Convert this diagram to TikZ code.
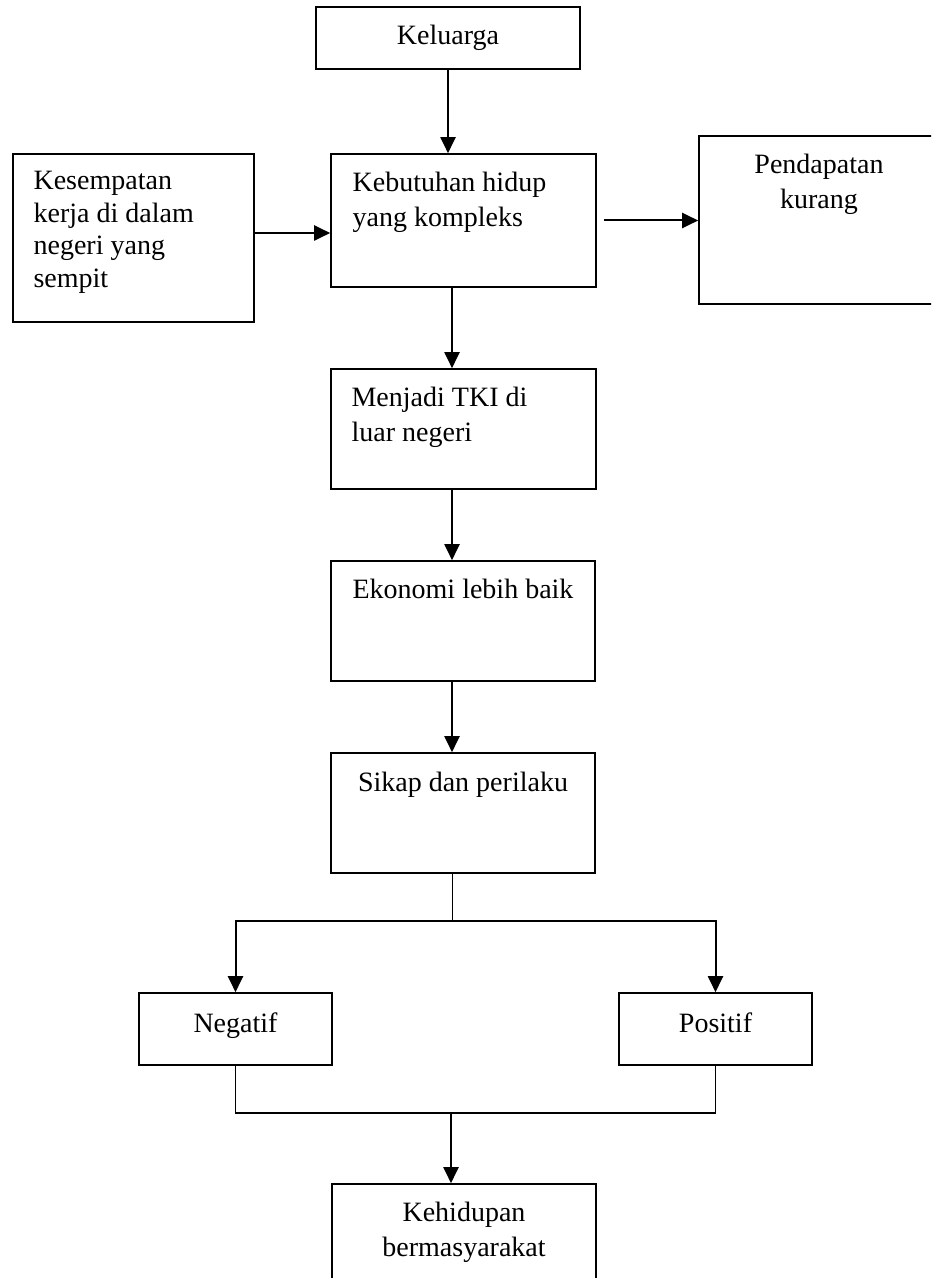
\documentclass[tikz,border=0pt]{standalone}
\usepackage{fontspec}
\setmainfont{Liberation Serif}
\usetikzlibrary{arrows.meta}

\begin{document}
\begin{tikzpicture}[x=0.5pt, y=-0.5pt, font=\fontsize{14}{17.5}\selectfont]
	\tikzstyle{box} = [draw, line width=0.8pt, rectangle, inner sep=0pt]
	\tikzstyle{small} = [box, minimum width=96.5pt, minimum height=36pt, text height=9.5pt, text depth=6pt]
	\tikzstyle{txtl} = [inner sep=0pt, align=left, anchor=north west, xshift=10.5pt, yshift=-9pt]
	\tikzstyle{txtc} = [inner sep=0pt, align=center, anchor=north, yshift=-9pt]
	\tikzstyle{flow} = [line width=1pt, -{Triangle[length=8pt, width=7.5pt]}]
	\useasboundingbox (0,0) rectangle (931,1278); \clip (0,0) rectangle (931,1278);

	\node[box, minimum width=132pt, minimum height=31pt] (kel) at (448,38) {Keluarga};
	\node[box, minimum width=120.5pt, minimum height=84pt, label={[txtl, font=\fontsize{14}{16.2}\selectfont]north west:{Kesempatan\\kerja di dalam\\negeri yang\\sempit}}] (kes) at (133.5,238) {}; \node[box, minimum width=132.5pt, minimum height=66.5pt, label={[txtl, xshift=0.5pt]north west:{Kebutuhan hidup\\yang kompleks}}] (keb) at (463.5,220.5) {}; \node[box, minimum width=120pt, minimum height=84pt, label={[txtc]north:{Pendapatan\\kurang}}] (pen) at (819,220) {};
	\node[box, minimum width=132.5pt, minimum height=60pt, label={[txtl]north west:{Menjadi TKI di\\luar negeri}}] (tki) at (463.5,429) {};
	\node[box, minimum width=132pt, minimum height=60pt, label={[txtc]north:{Ekonomi lebih baik}}] (eko) at (463,621) {};
	\node[box, minimum width=132pt, minimum height=60pt, label={[txtc, yshift=-0.5pt]north:{Sikap dan perilaku}}] (sik) at (463,813) {};
	\node[small] (neg) at (235.5,1029) {Negatif}; \node[small] (pos) at (715.5,1029) {Positif};
	\node[box, minimum width=132pt, minimum height=60pt, label={[txtc]north:{Kehidupan\\bermasyarakat}}] (keh) at (464,1244) {};
	\coordinate (split) at (452,921); \coordinate (merge) at (451,1113);

	\draw[flow] (kel.south) -- (kel.south |- keb.north); \draw[flow] ([yshift=2.5pt]kes.east) -- ([yshift=2.5pt]kes.east -| keb.west); \draw[flow] ([xshift=3.5pt]keb.east) -- (keb.east -| pen.west);
	\draw[flow] ([xshift=-5.75pt]keb.south) -- ([xshift=-5.75pt]keb.south |- tki.north); \draw[flow] ([xshift=-5.75pt]tki.south) -- ([xshift=-5.75pt]tki.south |- eko.north); \draw[flow] ([xshift=-5.5pt]eko.south) -- ([xshift=-5.5pt]eko.south |- sik.north);
	\draw[line width=0.5pt] ([xshift=-5.5pt]sik.south) -- (split); \draw[flow] (split) -| (neg.north); \draw[flow] (split) -| (pos.north);
	\draw[line width=0.8pt] (neg.south) |- (merge) -| (pos.south); \draw[flow] (merge) -- (merge |- keh.north);
\end{tikzpicture}
\end{document}
